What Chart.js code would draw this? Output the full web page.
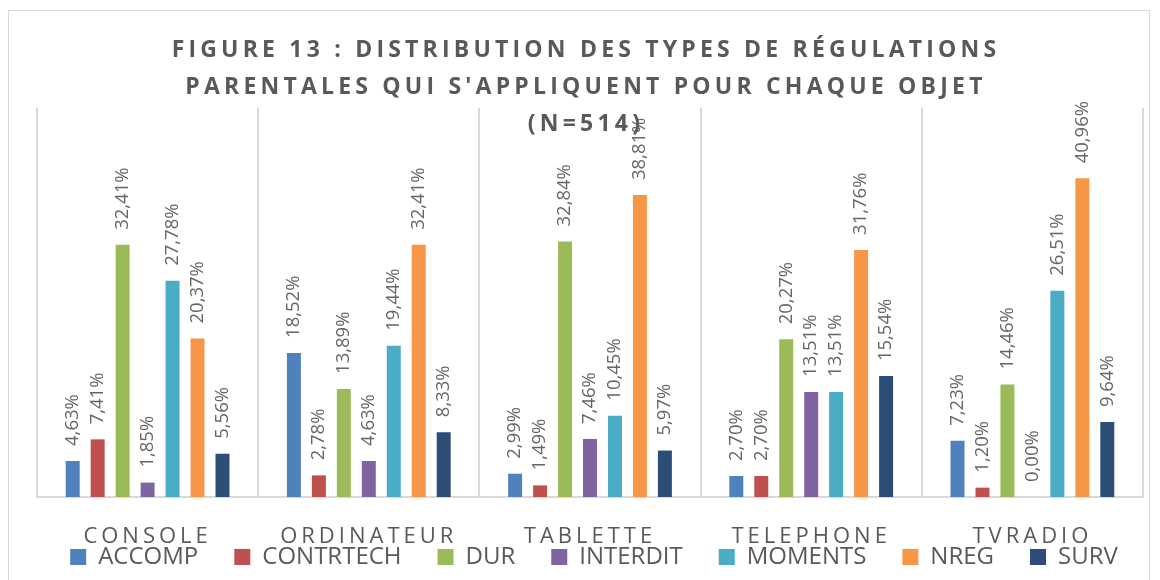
<!DOCTYPE html>
<html>
<head>
<meta charset="utf-8">
<script src="https://cdn.jsdelivr.net/npm/chart.js@4"></script>
<style>
  body { margin: 0; background: #fff; }
  #frame {
    position: absolute; left: 8px; top: 10px;
    width: 1142px; height: 580px;
    border: 1px solid #d9d9d9; box-sizing: border-box;
  }
  #chart { display: block; }
</style>
</head>
<body>
<div id="frame"><canvas id="chart" width="1140" height="569"></canvas></div>
<script>
const categories = ["CONSOLE", "ORDINATEUR", "TABLETTE", "TELEPHONE", "TVRADIO"];
const seriesNames = ["ACCOMP", "CONTRTECH", "DUR", "INTERDIT", "MOMENTS", "NREG", "SURV"];
const accomp = [4.63, 18.52, 2.99, 2.70, 7.23];
const contrtech = [7.41, 2.78, 1.49, 2.70, 1.20];
const dur = [32.41, 13.89, 32.84, 20.27, 14.46];
const interdit = [1.85, 4.63, 7.46, 13.51, 0.00];
const moments = [27.78, 19.44, 10.45, 13.51, 26.51];
const nreg = [20.37, 32.41, 38.81, 31.76, 40.96];
const surv = [5.56, 8.33, 5.97, 15.54, 9.64];
const colors = ["#4f81bd", "#c0504d", "#9bbb59", "#8064a2", "#4bacc6", "#f79646", "#2c4d75"];

const values = [accomp, contrtech, dur, interdit, moments, nreg, surv];
const greyText = "#595959";

// Letter spacing for the title and the category labels
const spacingPlugin = {
  id: "spacing",
  afterLayout(chart) {
    // the x scale is squeezed so the legend sits close; widen its label clip area again
    const x = chart.scales.x;
    x.bottom = x.top + 70;
    // nudge the legend a little right and down, like the original
    const lg = chart.legend;
    lg.left += 8; lg.right += 8;
    lg.top += 4; lg.bottom += 4;
  },
  beforeDraw(chart) {
    const wrap = (obj, fn, spacing) => {
      if (!obj || obj["_spaced_" + fn]) return;
      const orig = obj[fn];
      obj[fn] = function (area) {
        const c = this.ctx;
        c.save();
        c.letterSpacing = spacing;
        orig.call(this, area);
        c.restore();
      };
      obj["_spaced_" + fn] = true;
    };
    wrap(chart.titleBlock, "draw", "4.2px");
    wrap(chart.scales.x, "drawLabels", "4px");
  },
};

// Rotated value labels above each bar
const valueLabels = {
  id: "valueLabels",
  afterDatasetsDraw(chart) {
    const ctx = chart.ctx;
    ctx.save();
    ctx.font = "18.5px 'Open Sans'";
    ctx.fillStyle = "#666666";
    ctx.textAlign = "left";
    ctx.textBaseline = "middle";
    chart.data.datasets.forEach((ds, i) => {
      chart.getDatasetMeta(i).data.forEach((bar, j) => {
        const txt = ds.data[j].toFixed(2).replace(".", ",") + "%";
        ctx.save();
        ctx.translate(bar.x, bar.y - 15);
        ctx.rotate(-Math.PI / 2);
        ctx.fillText(txt, 0, 0);
        ctx.restore();
      });
    });
    ctx.restore();
  },
};

new Chart(document.getElementById("chart"), {
  type: "bar",
  data: {
    labels: categories,
    datasets: seriesNames.map((name, i) => ({
      label: name,
      data: values[i],
      backgroundColor: colors[i],
      categoryPercentage: 0.79,
      barPercentage: 0.56,
    })),
  },
  options: {
    responsive: false,
    animation: false,
    layout: { padding: { left: 14, right: 0, top: 0, bottom: 5 } },
    plugins: {
      title: {
        display: true,
        text: [
          "FIGURE 13 : DISTRIBUTION DES TYPES DE RÉGULATIONS",
          "PARENTALES QUI S'APPLIQUENT POUR CHAQUE OBJET",
          "(N=514)",
        ],
        color: greyText,
        font: { family: "'Open Sans'", size: 23, weight: "bold", lineHeight: 37 / 23 },
        padding: { top: 21, bottom: -35 },
      },
      legend: {
        position: "bottom",
        labels: {
          color: greyText,
          font: { family: "'Open Sans'", size: 24 },
          boxWidth: 16,
          boxHeight: 16,
          padding: 36,
        },
      },
      tooltip: { enabled: false },
    },
    scales: {
      x: {
        grid: { offset: true, color: "#d9d9d9", lineWidth: 2, drawTicks: false },
        border: { color: "#d9d9d9", width: 2 },
        ticks: {
          color: greyText,
          font: { family: "'Open Sans'", size: 22 },
          padding: 27,
          autoSkip: false,
          maxRotation: 0,
        },
        afterFit(scale) { scale.height = 8; },
      },
      y: {
        min: 0,
        max: 50,
        grid: { display: false },
        border: { display: false },
        ticks: { display: false },
        afterFit(scale) { scale.width = 14; },
      },
      yRight: {
        type: "linear",
        position: "right",
        grid: { display: false },
        border: { display: false },
        ticks: { display: false },
        afterFit(scale) { scale.width = 6; },
      },
    },
  },
  plugins: [spacingPlugin, valueLabels],
});
</script>
</body>
</html>
